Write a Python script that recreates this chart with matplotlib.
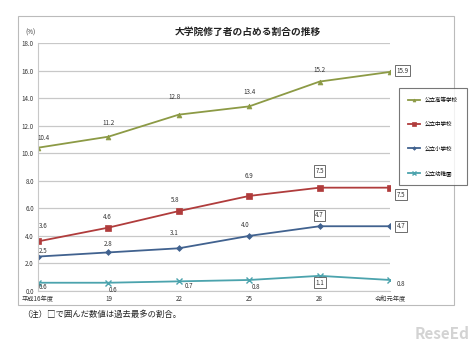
import matplotlib
matplotlib.use("Agg")
import matplotlib.pyplot as plt
from matplotlib.patches import Rectangle

plt.rcParams['font.family'] = ['Noto Sans CJK JP', 'DejaVu Sans']

categories = ["平成16年度", "19", "22", "25", "28", "令和元年度"]
series_names = ["公立高等学校", "公立中学校", "公立小学校", "公立幼稚園"]
high = [10.4, 11.2, 12.8, 13.4, 15.2, 15.9]
junior = [3.6, 4.6, 5.8, 6.9, 7.5, 7.5]
elem = [2.5, 2.8, 3.1, 4.0, 4.7, 4.7]
kinder = [0.6, 0.6, 0.7, 0.8, 1.1, 0.8]
yticks = [0, 2, 4, 6, 8, 10, 12, 14, 16, 18]

colors = ["#8c9a45", "#b03c3c", "#41628f", "#4ba3ad"]
markers = ["^", "s", "D", "x"]
msizes = [3.5, 4, 3, 4]

fig = plt.figure(figsize=(4.74, 3.43), dpi=100)
fig.patch.set_facecolor("white")
# outer frame
fig.patches.append(Rectangle((18/474, 1-305/343), (454-18)/474, (305-16)/343,
                             transform=fig.transFigure, fill=False,
                             edgecolor="#bbbbbb", linewidth=0.8))

ax = fig.add_axes([38/474, 1-291/343, (390-38)/474, (291-43)/343])
x = list(range(len(categories)))
ax.set_xlim(0, len(categories) - 1)
ax.set_ylim(0, 18)
ax.set_yticks(yticks)
ax.set_yticklabels([f"{v:.1f}" for v in yticks], fontsize=4.5, color="#333333")
ax.set_xticks(x)
ax.set_xticklabels(categories, fontsize=4.5, color="#333333")
ax.tick_params(length=0, pad=3)
ax.grid(axis="y", color="#c8c8c8", linewidth=0.9)
ax.set_axisbelow(True)
for s in ["top", "right"]:
    ax.spines[s].set_visible(False)
ax.spines["left"].set_color("#c8c8c8")
ax.spines["bottom"].set_color("#c8c8c8")

data = [high, junior, elem, kinder]
for vals, c, m, ms, name in zip(data, colors, markers, msizes, series_names):
    ax.plot(x, vals, color=c, marker=m, markersize=ms, linewidth=1.3,
            markeredgewidth=1.0 if m == "x" else 0.5, label=name)

def lab(xi, v, dx, dy, boxed=False, ha="center"):
    kw = dict(fontsize=4.5, color="#333333", ha=ha, va="center",
              textcoords="offset points")
    if boxed:
        kw["bbox"] = dict(boxstyle="square,pad=0.25", fc="white", ec="#555555", lw=0.6)
    ax.annotate(f"{v:.1f}", (xi, v), xytext=(dx, dy), **kw)

hi_off = [(4, 7), (0, 10), (-3, 13), (0, 10), (0, 8), (9, 1)]
for i, v in enumerate(high):
    lab(i, v, *hi_off[i], boxed=(i == 5))
jr_off = [(4, 11), (-1, 8), (-3, 8), (0, 14), (0, 12), (8, -5)]
for i, v in enumerate(junior):
    lab(i, v, *jr_off[i], boxed=(i >= 4))
el_off = [(4, 4), (0, 6), (-3, 11), (-3, 8), (0, 8), (8, 0)]
for i, v in enumerate(elem):
    lab(i, v, *el_off[i], boxed=(i >= 4))
kd_off = [(4, -3), (3, -5), (7, -3), (5, -5), (0, -5), (8, -3)]
for i, v in enumerate(kinder):
    lab(i, v, *kd_off[i], boxed=(i == 4))

leg = fig.legend(loc="upper left", bbox_to_anchor=(396/474, 1-85/343),
                 fontsize=4, frameon=True, handlelength=2.2, labelspacing=3.4,
                 borderpad=1.7, fancybox=False, edgecolor="#555555",
                 markerscale=0.6)
leg.get_frame().set_linewidth(0.8)

fig.text(248/474, 1-32/343, "大学院修了者の占める割合の推移", fontsize=7,
         fontweight="bold", ha="center", va="center", color="#222222")
fig.text(30/474, 1-33/343, "(%)", fontsize=4.5, ha="center", va="center", color="#333333")
fig.text(22/474, 1-314/343, "（注）□で囲んだ数値は過去最多の割合。", fontsize=6,
         ha="left", va="center", color="#222222")
fig.text(470/474, 1-334/343, "ReseEd", fontsize=11, fontweight="bold",
         ha="right", va="center", color="#c9c9c9", alpha=0.8)

fig.savefig("out.png", dpi=100)
